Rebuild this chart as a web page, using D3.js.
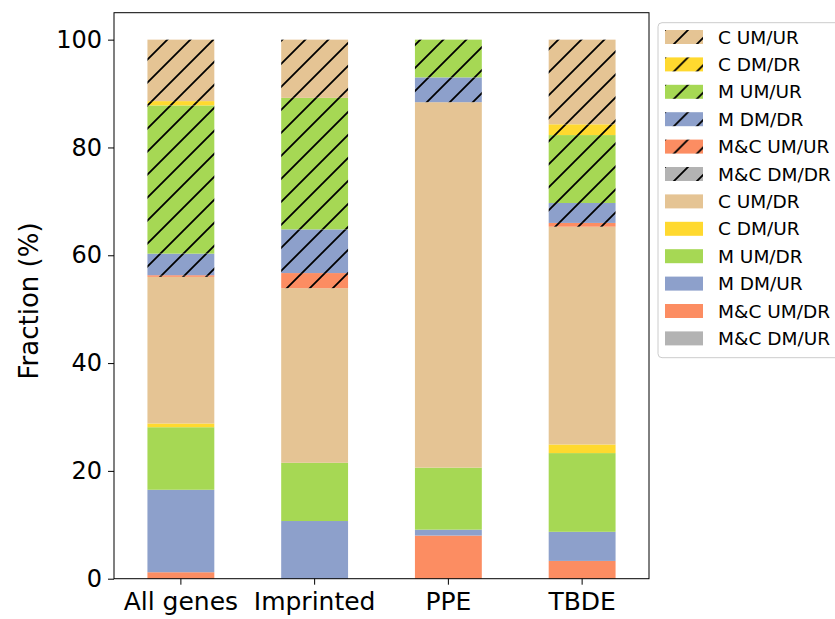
<!DOCTYPE html>
<html>
<head>
<meta charset="utf-8">
<script src="https://cdn.jsdelivr.net/npm/d3@7"></script>
<style>
  body { margin: 0; background: #fff; }
  svg, svg text { font-family: "DejaVu Sans", sans-serif; }
</style>
</head>
<body>
<svg id="chart" width="835" height="619"></svg>
<script>
// categories on the x axis
var categories = ["All genes", "Imprinted", "PPE", "TBDE"];

// series, stacked bottom to top
var seriesNames = [
  "M&C DM/UR", "M&C UM/DR", "M DM/UR", "M UM/DR", "C DM/UR", "C UM/DR",
  "M&C DM/DR", "M&C UM/UR", "M DM/DR", "M UM/UR", "C DM/DR", "C UM/UR"
];
var hatched = [false, false, false, false, false, false, true, true, true, true, true, true];
var seriesColors = ["#b3b3b3", "#fc8d62", "#8da0cb", "#a6d854", "#ffd92f", "#e5c494",
                    "#b3b3b3", "#fc8d62", "#8da0cb", "#a6d854", "#ffd92f", "#e5c494"];

// fraction (%) per series, one value per category
var mcDmUr = [0, 0, 0, 0];
var mcUmDr = [1.2, 0, 8.0, 3.3];
var mDmUr  = [15.3, 10.7, 1.1, 5.4];
var mUmDr  = [11.6, 10.8, 11.5, 14.6];
var cDmUr  = [0.7, 0, 0, 1.6];
var cUmDr  = [27.2, 32.4, 67.8, 40.4];
var mcDmDr = [0, 0, 0, 0];
var mcUmUr = [0.3, 2.8, 0, 0.7];
var mDmDr  = [4.0, 8.1, 4.6, 3.7];
var mUmUr  = [27.5, 24.4, 7.0, 12.6];
var cDmDr  = [0.8, 0, 0, 2.0];
var cUmUr  = [11.4, 10.8, 0, 15.7];

var yTicks = [0, 20, 40, 60, 80, 100];

var seriesValues = [mcDmUr, mcUmDr, mDmUr, mUmDr, cDmUr, cUmDr,
                    mcDmDr, mcUmUr, mDmDr, mUmUr, cDmDr, cUmUr];

// build table for d3.stack
var table = categories.map(function(c, i) {
  var row = { cat: c };
  seriesNames.forEach(function(s, j) { row[s] = seriesValues[j][i]; });
  return row;
});

var svg = d3.select("#chart");
var plotLeft = 114, plotRight = 649, plotTop = 12.7, plotBottom = 578.7;

var x = d3.scaleBand()
  .domain(categories)
  .range([plotLeft, plotRight])
  .paddingInner(0.5)
  .paddingOuter(0.25);

var y = d3.scaleLinear()
  .domain([0, 105])
  .range([plotBottom, plotTop]);

// hatch patterns
var defs = svg.append("defs");
var hs = 23;
seriesNames.forEach(function(s, j) {
  if (!hatched[j]) return;
  var p = defs.append("pattern")
    .attr("id", "hatch" + j)
    .attr("patternUnits", "userSpaceOnUse")
    .attr("width", hs)
    .attr("height", hs);
  p.append("rect")
    .attr("width", hs).attr("height", hs)
    .attr("fill", seriesColors[j]);
  p.append("path")
    .attr("d", "M-2," + (hs + 2) + " L" + (hs + 2) + ",-2 M" + (-2 - hs / 2) + "," + (hs / 2 + 2) + " L" + (hs / 2 + 2) + "," + (-2 - hs / 2) + " M" + (hs / 2 - 2) + "," + (hs * 1.5 + 2) + " L" + (hs * 1.5 + 2) + "," + (hs / 2 - 2))
    .attr("stroke", "#000")
    .attr("stroke-width", 1.8)
    .attr("fill", "none");
});

function fillFor(j) {
  return hatched[j] ? "url(#hatch" + j + ")" : seriesColors[j];
}

var stacked = d3.stack().keys(seriesNames)(table);

svg.append("g").selectAll("g")
  .data(stacked)
  .enter()
  .append("g")
  .attr("fill", function(d, j) { return fillFor(j); })
  .selectAll("rect")
  .data(function(d) { return d; })
  .enter()
  .append("rect")
  .attr("x", function(d) { return x(d.data.cat); })
  .attr("width", x.bandwidth())
  .attr("y", function(d) { return y(d[1]); })
  .attr("height", function(d) { return y(d[0]) - y(d[1]); });

// frame
svg.append("rect")
  .attr("x", plotLeft).attr("y", plotTop)
  .attr("width", plotRight - plotLeft).attr("height", plotBottom - plotTop)
  .attr("fill", "none")
  .attr("stroke", "#000")
  .attr("stroke-width", 1);

// axes
var yAxis = svg.append("g")
  .attr("transform", "translate(" + plotLeft + ",0)")
  .call(d3.axisLeft(y).tickValues(yTicks).tickSize(6).tickPadding(6));
yAxis.attr("font-family", null);
yAxis.select(".domain").remove();
yAxis.selectAll("text").style("font-size", "24px").attr("fill", "#000");

var xAxis = svg.append("g")
  .attr("transform", "translate(0," + plotBottom + ")")
  .call(d3.axisBottom(x).tickSize(6).tickPadding(8));
xAxis.attr("font-family", null);
xAxis.select(".domain").remove();
xAxis.selectAll("text").style("font-size", "25px").attr("fill", "#000");

svg.append("text")
  .attr("transform", "translate(38,301) rotate(-90)")
  .attr("text-anchor", "middle")
  .style("font-size", "26px")
  .text("Fraction (%)");

// legend
var legend = svg.append("g");
legend.append("rect")
  .attr("x", 658).attr("y", 22.7)
  .attr("width", 190).attr("height", 335)
  .attr("rx", 4)
  .attr("fill", "#fff")
  .attr("stroke", "#ccc");

var order = seriesNames.map(function(s, j) { return j; }).reverse();
var items = legend.selectAll("g.item")
  .data(order)
  .enter()
  .append("g")
  .attr("transform", function(j, i) { return "translate(665," + (30 + i * 27.4) + ")"; });
items.append("rect")
  .attr("width", 38).attr("height", 14)
  .attr("fill", function(j) { return fillFor(j); });
items.append("text")
  .attr("x", 53).attr("y", 13.5)
  .style("font-size", "18.5px")
  .text(function(j) { return seriesNames[j]; });
</script>
</body>
</html>
